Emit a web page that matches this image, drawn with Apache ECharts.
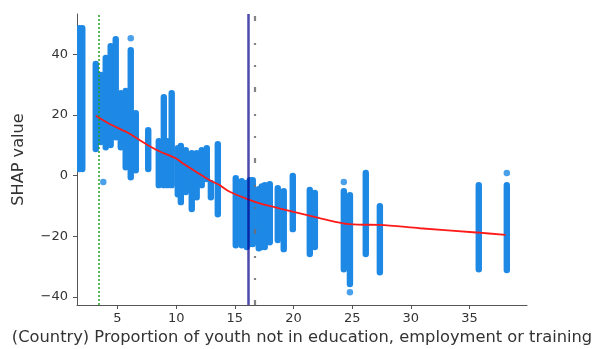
<!DOCTYPE html>
<html>
<head>
<meta charset="utf-8">
<script src="https://cdn.jsdelivr.net/npm/echarts@6/dist/echarts.min.js"></script>
<style>
  html, body { margin: 0; padding: 0; background: #fff; }
  #chart { width: 593px; height: 349px; }
</style>
</head>
<body>
<div id="chart"></div>
<script>
// Tick labels
const xTicks = [5, 10, 15, 20, 25, 30, 35];
const yTicks = [-40, -20, 0, 20, 40];

// Dependence strips: feature value and the SHAP range covered at that value
const stripX = [1.75, 2.0, 3.15, 3.57, 4.00, 4.42, 4.85, 5.28, 5.70, 6.13, 6.56, 7.62,
  8.52, 8.95, 9.28, 9.62, 10.14, 10.40, 10.82, 11.33, 11.75, 12.18, 12.61, 12.96, 13.55,
  15.08, 15.59, 16.02, 16.28, 16.53, 17.04, 17.30, 17.55, 17.98, 18.66, 19.17, 19.94, 21.39, 21.82,
  24.29, 24.81, 26.16, 27.36, 35.79, 38.18];
const stripMax = [48.6, 48.6, 36.8, 33.2, 38.8, 42.7, 45.0, 27.2, 27.9, 41.4, 20.6, 15.0,
  11.4, 25.9, 11.4, 27.2, 9.1, 9.8, 8.4, 7.4, 7.4, 8.4, 9.1, -2.4, 10.4,
  -0.8, -1.8, -2.4, -1.5, -1.5, -4.4, -3.5, -3.1, -2.8, -4.1, -5.1, -0.1, -4.7, -5.7,
  -5.1, -6.4, 0.9, -10.0, -3.1, -3.1];
const stripMin = [2.2, 2.2, 8.8, 11.1, 9.4, 10.1, 12.7, 9.4, 2.8, -0.5, 1.8, 2.2,
  -3.1, -3.1, -3.1, -3.1, -6.1, -8.7, -5.4, -11.0, -7.1, -3.1, -1.1, -7.1, -12.7,
  -22.9, -22.9, -23.5, -22.5, -22.5, -23.9, -23.5, -23.5, -21.9, -21.2, -24.2, -17.6, -25.8, -23.5,
  -30.8, -35.7, -25.8, -31.8, -30.8, -31.1];

// Isolated points
const dotX = [3.79, 6.13, 24.29, 24.81, 38.18];
const dotY = [-2.1, 45.3, -2.1, -38.4, 0.9];

// Smoothed trend
const trendX = [3.15, 4.51, 5.77, 7.75, 8.6, 10.03, 10.59, 12.86, 13.71, 14.57, 16.13,
  17.12, 19.39, 22.23, 24.22, 25.5, 27.34, 30.75, 35.58, 38.08];
const trendY = [19.8, 16.7, 14.4, 9.7, 8.0, 5.6, 4.0, -1.5, -3.1, -5.3, -7.8,
  -9.1, -11.3, -14.0, -15.7, -16.1, -16.2, -17.3, -18.7, -19.5];

// Reference lines
const greenLineX = 3.43;
const blueLineX = 16.13;
const grayLineX = 16.7;

const X_MIN = 1.55, X_MAX = 39.9, Y_MIN = -42.6, Y_MAX = 53.3;
const POINT_BLUE = '#1E88E5';
const TEXT = '#333';
const FONT = 'DejaVu Sans';

function vline(x, style) {
  return {
    type: 'line', data: [], silent: true, z: 5,
    markLine: {
      silent: true, symbol: 'none', animation: false,
      label: { show: false },
      lineStyle: style,
      data: [[{ coord: [x, Y_MIN] }, { coord: [x, Y_MAX] }]]
    }
  };
}

const chart = echarts.init(document.getElementById('chart'), null, { renderer: 'canvas' });
chart.setOption({
  animation: false,
  backgroundColor: '#fff',
  grid: { left: 77, right: 66, top: 14, bottom: 44, containLabel: false, outerBoundsMode: 'none' },
  xAxis: {
    type: 'value', min: X_MIN, max: X_MAX,
    name: '(Country) Proportion of youth not in education, employment or training',
    nameLocation: 'middle', nameGap: 25,
    nameTextStyle: { fontFamily: FONT, fontSize: 16.3, color: TEXT },
    axisLine: { show: true, onZero: false, lineStyle: { color: '#555', width: 1 } },
    axisTick: { show: true, length: 4, customValues: xTicks, lineStyle: { color: '#555' } },
    axisLabel: { customValues: xTicks, fontFamily: FONT, fontSize: 13, color: TEXT, margin: 7 },
    splitLine: { show: false }
  },
  yAxis: {
    type: 'value', min: Y_MIN, max: Y_MAX,
    name: 'SHAP value',
    nameLocation: 'middle', nameGap: 50,
    nameTextStyle: { fontFamily: FONT, fontSize: 16.2, color: TEXT },
    axisLine: { show: true, onZero: false, lineStyle: { color: '#555', width: 1 } },
    axisTick: { show: true, length: 4, customValues: yTicks, lineStyle: { color: '#555' } },
    axisLabel: {
      customValues: yTicks, fontFamily: FONT, fontSize: 13, color: TEXT, margin: 9,
      formatter: v => (v < 0 ? '\u2212' + (-v) : String(v))
    },
    splitLine: { show: false }
  },
  series: [
    {
      type: 'custom', z: 2, clip: true,
      data: stripX.map((x, i) => [x, stripMax[i], stripMin[i]]),
      encode: { x: 0, y: [1, 2] },
      renderItem: function (params, api) {
        const top = api.coord([api.value(0), api.value(1)]);
        const bot = api.coord([api.value(0), api.value(2)]);
        const r = 3.2;
        return {
          type: 'rect',
          shape: { x: top[0] - r, y: top[1] - r, width: 2 * r, height: bot[1] - top[1] + 2 * r, r: r },
          style: { fill: POINT_BLUE }
        };
      }
    },
    {
      type: 'scatter', z: 2, symbolSize: 6.5,
      itemStyle: { color: POINT_BLUE },
      data: dotX.map((x, i) => [x, dotY[i]])
    },
    {
      type: 'line', z: 4, symbol: 'none', smooth: 0.3,
      lineStyle: { color: '#ff1a1a', width: 1.8 },
      data: trendX.map((x, i) => [x, trendY[i]])
    },
    vline(greenLineX, { color: 'rgba(30,160,30,0.75)', width: 2, type: [2, 2] }),
    vline(blueLineX, { color: 'rgba(0,0,139,0.7)', width: 2.5, type: 'solid' }),
    vline(grayLineX, { color: 'rgba(110,110,110,0.85)', width: 2.2, type: [5, 20, 2, 20, 2, 22] })
  ]
});
</script>
</body>
</html>
